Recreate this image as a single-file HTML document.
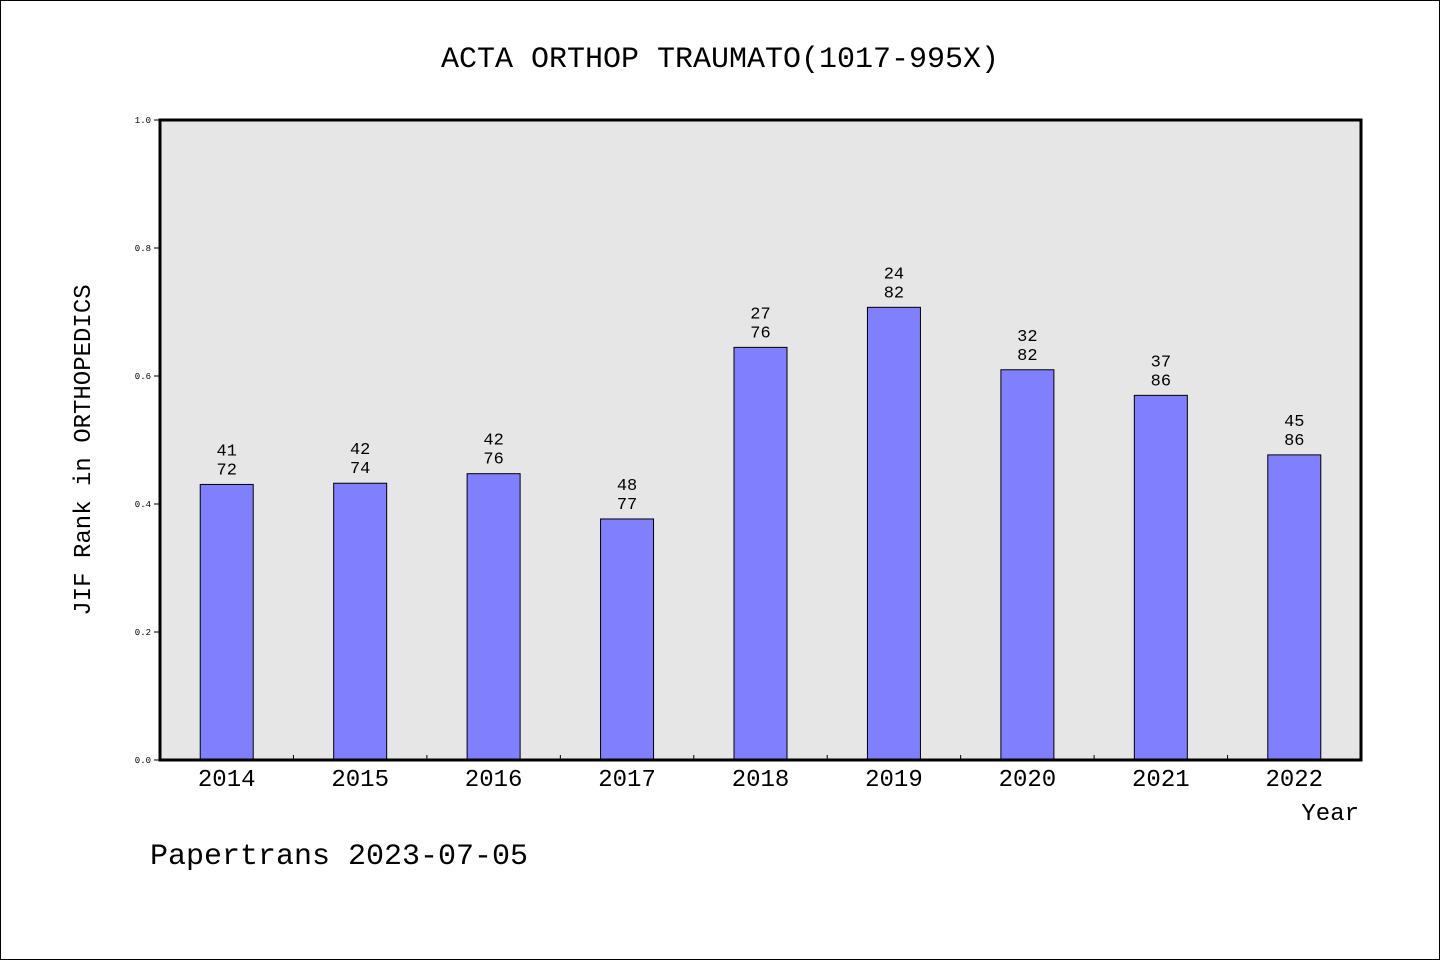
<!DOCTYPE html>
<html><head><meta charset="utf-8"><style>
html,body{margin:0;padding:0;background:#fff}
svg{display:block}
text{font-family:"WenQuanYi Zen Hei","Liberation Mono",monospace;fill:#000}
</style></head><body>
<svg id="chart" width="1440" height="960" xmlns="http://www.w3.org/2000/svg">
<rect x="0.5" y="0.5" width="1439" height="959" fill="#fff" stroke="#000"/>
<text x="720" y="67" font-size="30" text-anchor="middle">ACTA ORTHOP TRAUMATO(1017-995X)</text>
<rect x="160" y="120" width="1201" height="640" fill="#e6e6e6"/>
<g id="bars"></g>
<g id="yticks"></g>
<g id="xticks"></g>
<rect x="160" y="120" width="1201" height="640" fill="none" stroke="#000" stroke-width="3"/>
<text transform="translate(90,450) rotate(-90)" font-size="24" text-anchor="middle">JIF Rank in ORTHOPEDICS</text>
<text x="1359" y="820" font-size="24" text-anchor="end">Year</text>
<text x="150" y="864" font-size="30">Papertrans 2023-07-05</text>
</svg>
<script>
const years=["2014","2015","2016","2017","2018","2019","2020","2021","2022"];
const ranks=[41,42,42,48,27,24,32,37,45];
const totals=[72,74,76,77,76,82,82,86,86];
const yTickLabels=["0.0","0.2","0.4","0.6","0.8","1.0"];
const NS="http://www.w3.org/2000/svg";
const X0=160,X1=1361,Y0=760,Y1=120;
const band=(X1-X0)/years.length;
const xc=i=>X0+band*(i+0.5);
const ys=v=>Y0-(Y0-Y1)*v;
function mk(tag,attrs,parent){const e=document.createElementNS(NS,tag);for(const k in attrs)e.setAttribute(k,attrs[k]);parent.appendChild(e);return e;}
const gb=document.getElementById('bars'),gy=document.getElementById('yticks'),gx=document.getElementById('xticks');
years.forEach((y,i)=>{
  const v=1-ranks[i]/totals[i];
  const w=53;
  const r=mk('rect',{x:xc(i)-w/2,y:ys(v),width:w,height:Y0-ys(v),fill:'#8080ff',stroke:'#000','stroke-width':1},gb);
  
  
  const t1=mk('text',{x:xc(i),y:ys(v)-29,'font-size':17,'text-anchor':'middle'},gb);
  t1.textContent=ranks[i];
  
  
  const t2=mk('text',{x:xc(i),y:ys(v)-10,'font-size':17,'text-anchor':'middle'},gb);
  t2.textContent=totals[i];
  
  
  const xl=mk('text',{x:xc(i),y:786,'font-size':24,'text-anchor':'middle'},gx);
  xl.textContent=y;
  
  
  if(i>0){
    const tk=mk('line',{x1:X0+band*i,x2:X0+band*i,y1:Y0,y2:Y0-5,stroke:'#000'},gx);
    
    
  }
});
yTickLabels.forEach((l,i)=>{
  const v=parseFloat(l),yy=ys(v);
  const tk=mk('line',{x1:X0-6,x2:X0,y1:yy,y2:yy,stroke:'#000'},gy);
  
  
  const t=mk('text',{x:X0-9,y:yy+3,'font-size':9,'text-anchor':'end'},gy);
  t.textContent=l;
  
  
});
</script>
</body></html>
